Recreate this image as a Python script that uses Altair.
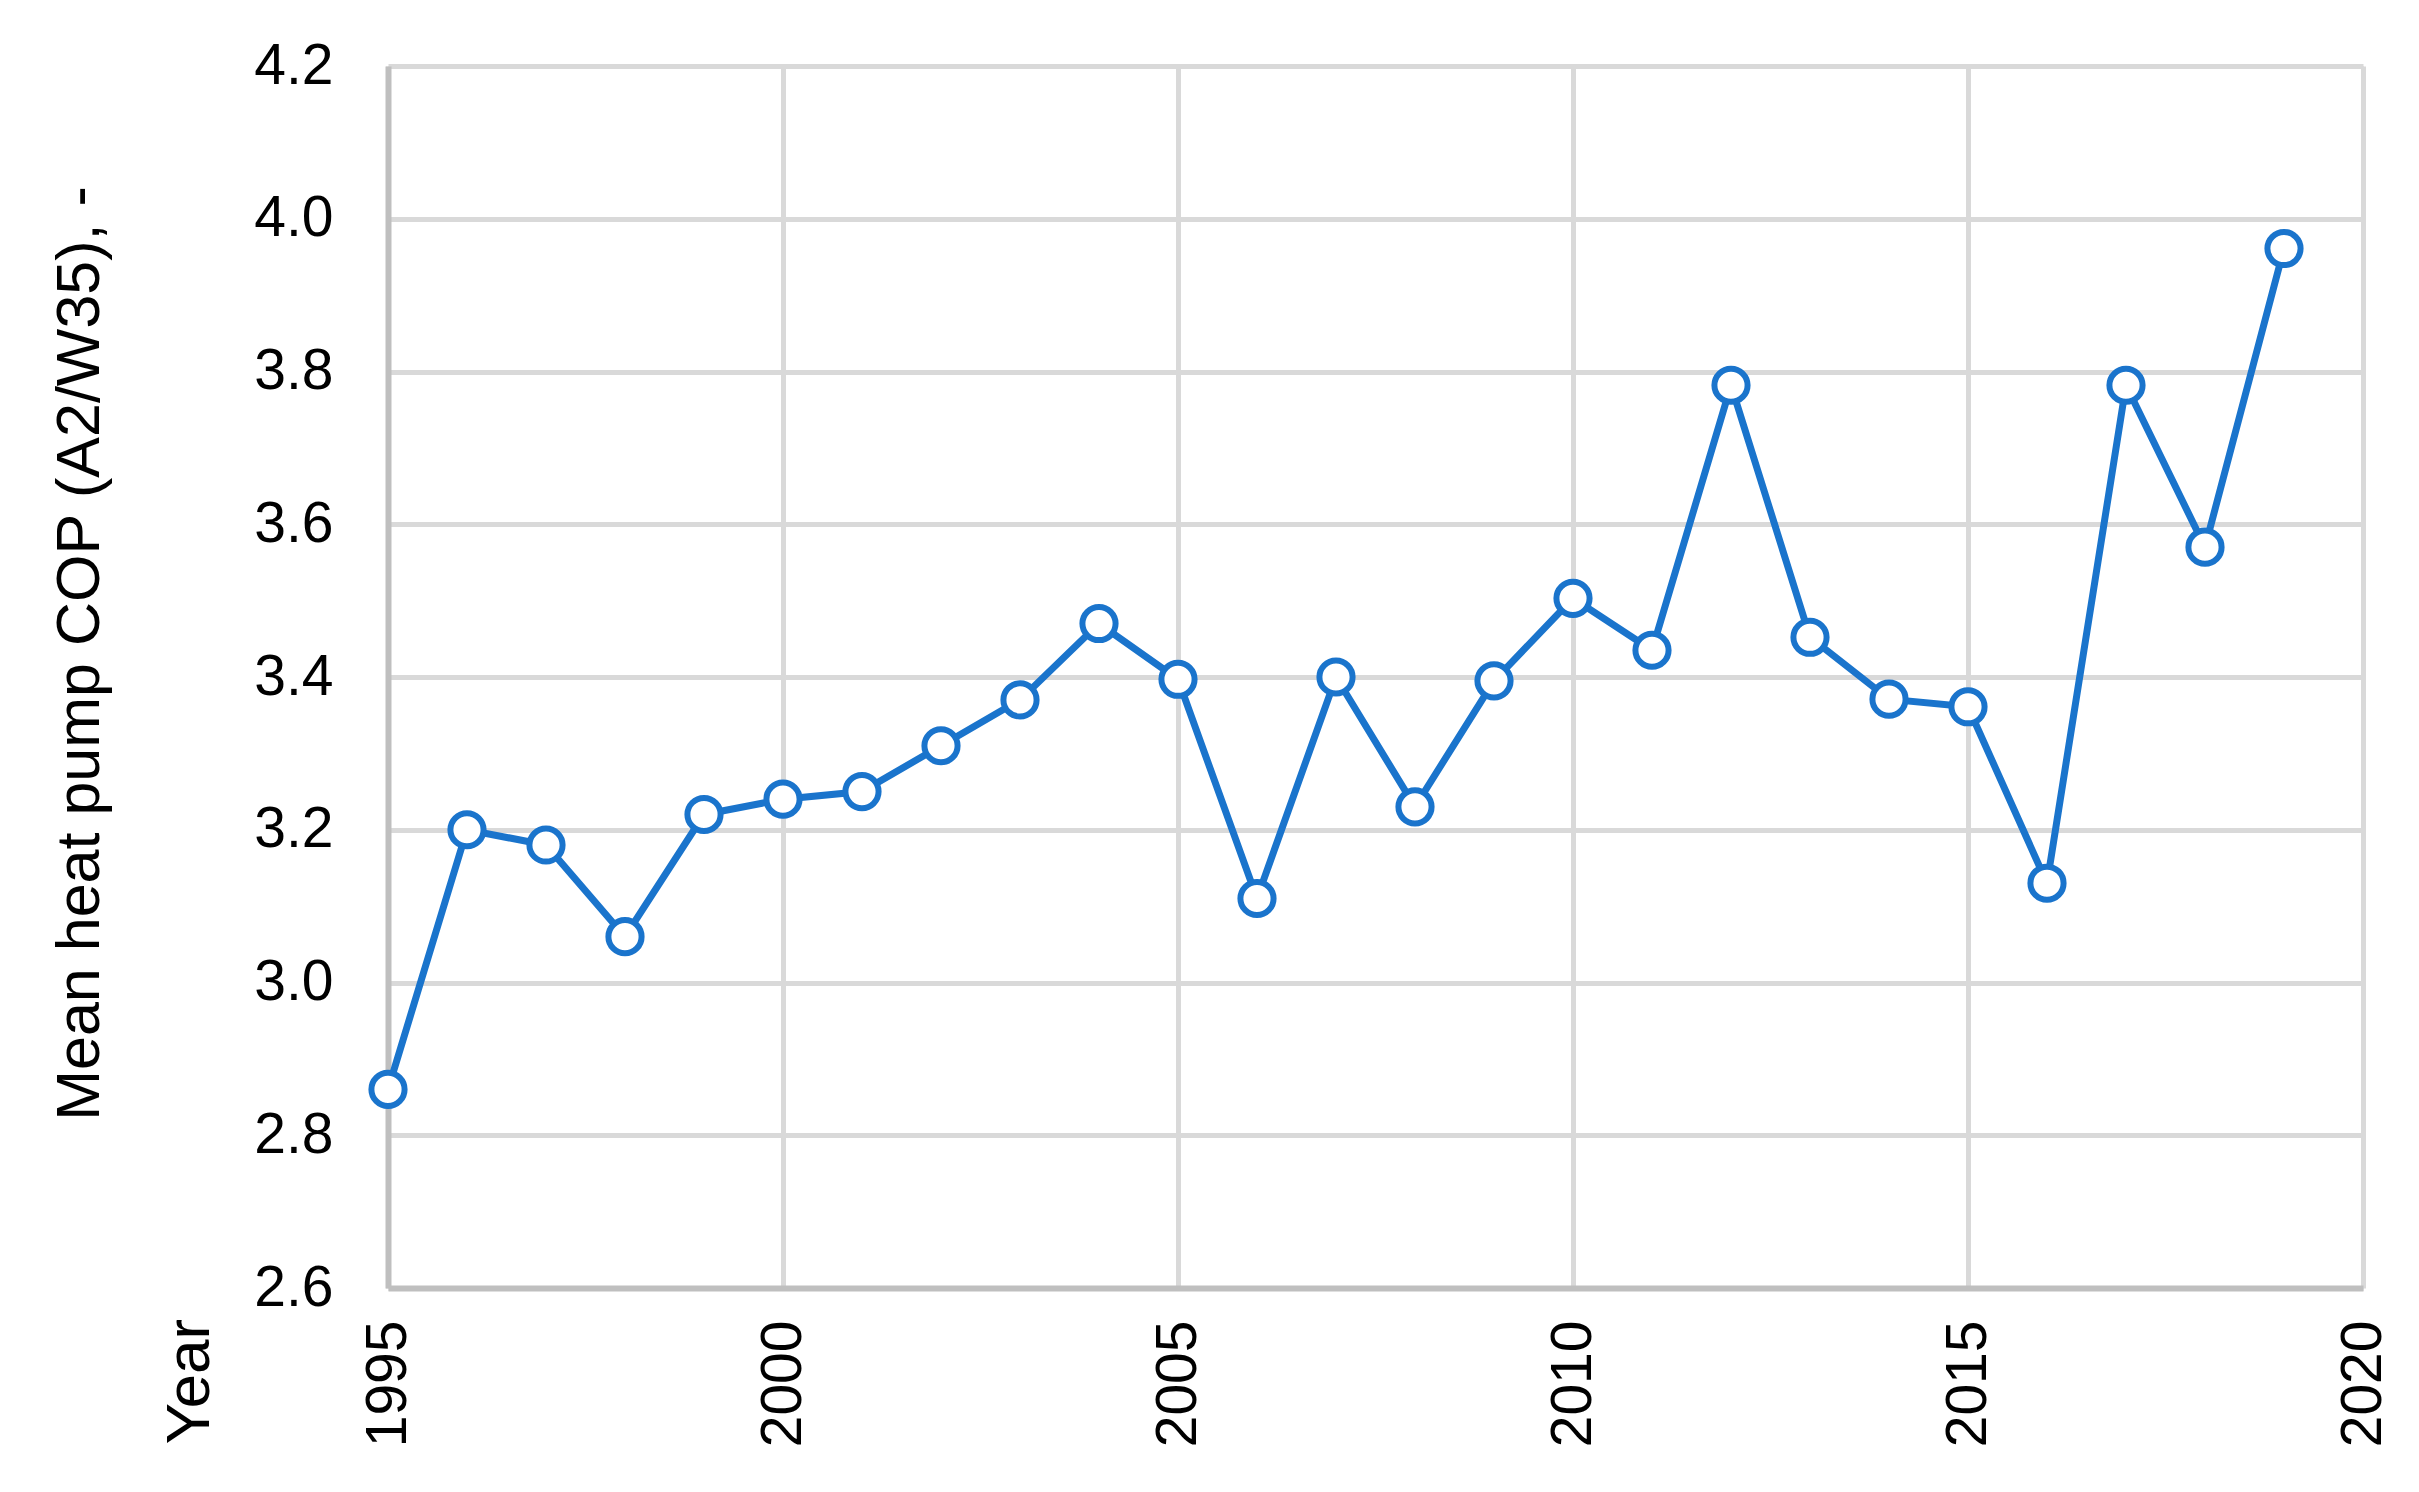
import altair as alt
import pandas as pd

years = list(range(1995, 2020))
cop = [2.86, 3.20, 3.18, 3.06, 3.22, 3.24, 3.25, 3.31, 3.37, 3.47,
       3.397, 3.11, 3.40, 3.23, 3.395, 3.503, 3.435, 3.782, 3.452, 3.371,
       3.361, 3.13, 3.782, 3.57, 3.961]
x_ticks = [1995, 2000, 2005, 2010, 2015, 2020]
y_ticks = [2.6, 2.8, 3.0, 3.2, 3.4, 3.6, 3.8, 4.0, 4.2]

df = pd.DataFrame({"year": years, "cop": cop})

BLUE = "#1a74cc"
GRID = "#d9d9d9"
AXIS = "#bfbfbf"
TICK_FONT = "Liberation Sans"
TITLE_FONT = "Liberation Sans"

x_enc = alt.X(
    "year:Q",
    scale=alt.Scale(domain=[1995, 2020], nice=False, zero=False),
    axis=alt.Axis(
        values=x_ticks, format="d", labelAngle=270, labelAlign="right",
        labelBaseline="middle", labelFontSize=57, labelFont=TICK_FONT,
        labelColor="#000000", labelPadding=32, ticks=False,
        domainColor=AXIS, domainWidth=6, gridColor=GRID, gridWidth=5,
        title="Year", titleFont=TITLE_FONT, titleFontSize=62,
        titleFontWeight="normal", titleColor="#000000", titleAngle=270,
        titleAlign="center", titleBaseline="alphabetic",
        titleX=-180, titleY=93, labelFlush=False, labelOverlap=False,
    ),
)
y_enc = alt.Y(
    "cop:Q",
    scale=alt.Scale(domain=[2.6, 4.2], nice=False, zero=False),
    axis=alt.Axis(
        values=y_ticks, format=".1f", labelFontSize=57, labelFont=TICK_FONT,
        labelColor="#000000", labelPadding=55, ticks=False,
        domainColor=AXIS, domainWidth=6, gridColor=GRID, gridWidth=5,
        title="Mean heat pump COP (A2/W35), -", titleFont=TITLE_FONT,
        titleFontSize=61, titleFontWeight="normal", titleColor="#000000",
        titleAngle=270, titleAlign="center", titleBaseline="alphabetic",
        titleX=-290, titleY=587, labelFlush=False, labelOverlap=False,
    ),
)

line = alt.Chart(df).mark_line(color=BLUE, strokeWidth=7).encode(x=x_enc, y=y_enc)
pts = alt.Chart(df).mark_point(
    shape="circle", filled=True, fill="#ffffff", stroke=BLUE,
    strokeWidth=6, size=1100, opacity=1,
).encode(x="year:Q", y="cop:Q")

chart = (
    alt.layer(line, pts)
    .properties(
        width=1975, height=1222,
        autosize=alt.AutoSizeParams(type="none"),
        padding={"left": 380, "top": 58, "right": 40, "bottom": 190},
    )
    .configure_view(stroke=None)
    .configure(background="#ffffff")
)

chart.save("out.html", embed_options={"renderer": "svg", "actions": False})
